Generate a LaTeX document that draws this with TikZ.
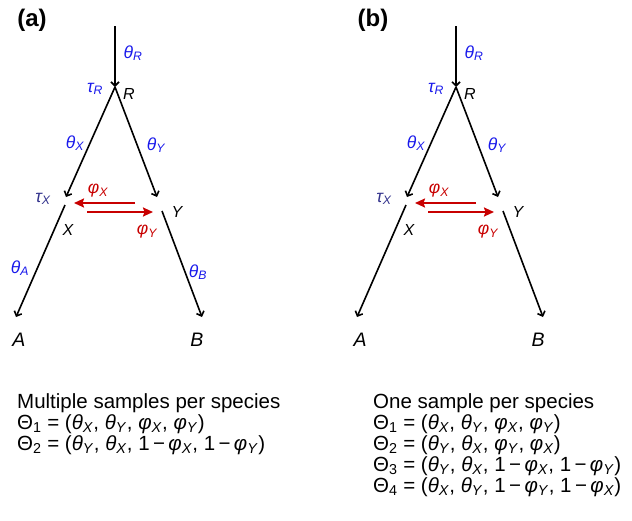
\documentclass[tikz,border=0pt]{standalone}
\usepackage{fontspec}
\setmainfont{Liberation Sans}
\usetikzlibrary{arrows.meta}
\definecolor{thblue}{RGB}{25,25,235}
\definecolor{taunavy}{RGB}{50,50,140}
\definecolor{migred}{RGB}{200,0,0}

\begin{document}
\begin{tikzpicture}[x=1pt,y=-1pt, every node/.style={inner sep=0pt},
  branch/.style={line width=1.6pt,-{Straight Barb[length=4pt,width=8pt]}},
  migarr/.style={draw=migred,line width=2pt,-{Stealth[length=10pt,width=9pt,inset=1.5pt]}},
  lab/.style={font=\fontsize{17.5}{20}\selectfont\itshape,text=thblue},
  miglab/.style={lab,text=migred},
  pop/.style={font=\fontsize{16}{19}\selectfont\itshape},
  leaf/.style={font=\fontsize{19.5}{22}\selectfont\itshape},
  panel/.style={font=\fontsize{24}{28}\selectfont\bfseries},
  blurb/.style={font=\fontsize{20.5}{21}\selectfont,align=left,anchor=north west}]
  \useasboundingbox (0,0) rectangle (632,520);
  \newcommand{\gsub}[2]{#1\textsubscript{#2}}
  \newcommand{\speciestree}[1]{
    \node[panel] (tag) at (32,20) {(#1)};
    \coordinate (top) at (115,26);
    \coordinate (R) at (115,87);
    \coordinate (Xend) at (66,197);
    \coordinate (Xbeg) at (65,205);
    \coordinate (Yend) at (157,197);
    \coordinate (Ybeg) at (162,211);
    \coordinate (A) at (16,317);
    \coordinate (B) at (202,317);
    \draw[branch] (top) -- (R);
    \draw[branch] (R) -- (Xend);
    \draw[branch] (R) -- (Yend);
    \draw[branch] (Xbeg) -- (A);
    \draw[branch] (Ybeg) -- (B);
    \coordinate (mXfrom) at (135,203);
    \coordinate (mXto) at (74,203);
    \coordinate (mYfrom) at (87,212);
    \coordinate (mYto) at (153,212);
    \draw[migarr] (mXfrom) -- (mXto);
    \draw[migarr] (mYfrom) -- (mYto);
    \node[lab] (thR) at (133,53) {\gsub{θ}{R}};
    \node[lab] (tauR) at (95,89) {\gsub{τ}{R}};
    \node[pop] (labR) at (129,94) {R};
    \node[lab] (thX) at (75,143) {\gsub{θ}{X}};
    \node[lab] (thY) at (156,145) {\gsub{θ}{Y}};
    \node[lab,text=taunavy] (tauX) at (43,199) {\gsub{τ}{X}};
    \node[pop] (labX) at (68,230) {X};
    \node[pop] (labY) at (177,212) {Y};
    \node[miglab] (phiX) at (98,191) {\gsub{φ}{X}};
    \node[miglab] (phiY) at (147,232) {\gsub{φ}{Y}};
    \node[leaf] (labA) at (19,340) {A};
    \node[leaf] (labB) at (197,340) {B};
  }
  \begin{scope}[name prefix=a-]
    \speciestree{a}
    \node[lab] (thA) at (20,268) {\gsub{θ}{A}};
    \node[lab] (thB) at (198,272) {\gsub{θ}{B}};
    \node[blurb] (sets) at (17,393) {Multiple samples per species\\
      Θ\textsubscript{1} = (\gsub{\textit{θ}}{\textit{X}}, \gsub{\textit{θ}}{\textit{Y}}, \gsub{\textit{φ}}{\textit{X}}, \gsub{\textit{φ}}{\textit{Y}})\\
      Θ\textsubscript{2} = (\gsub{\textit{θ}}{\textit{Y}}, \gsub{\textit{θ}}{\textit{X}}, 1\,−\,\gsub{\textit{φ}}{\textit{X}}, 1\,−\,\gsub{\textit{φ}}{\textit{Y}})};
  \end{scope}
  \begin{scope}[xshift=341pt,name prefix=b-]
    \speciestree{b}
    \node[blurb] (sets) at (32,393) {One sample per species\\
      Θ\textsubscript{1} = (\gsub{\textit{θ}}{\textit{X}}, \gsub{\textit{θ}}{\textit{Y}}, \gsub{\textit{φ}}{\textit{X}}, \gsub{\textit{φ}}{\textit{Y}})\\
      Θ\textsubscript{2} = (\gsub{\textit{θ}}{\textit{Y}}, \gsub{\textit{θ}}{\textit{X}}, \gsub{\textit{φ}}{\textit{Y}}, \gsub{\textit{φ}}{\textit{X}})\\
      Θ\textsubscript{3} = (\gsub{\textit{θ}}{\textit{Y}}, \gsub{\textit{θ}}{\textit{X}}, 1\,−\,\gsub{\textit{φ}}{\textit{X}}, 1\,−\,\gsub{\textit{φ}}{\textit{Y}})\\
      Θ\textsubscript{4} = (\gsub{\textit{θ}}{\textit{X}}, \gsub{\textit{θ}}{\textit{Y}}, 1\,−\,\gsub{\textit{φ}}{\textit{Y}}, 1\,−\,\gsub{\textit{φ}}{\textit{X}})};
  \end{scope}
\end{tikzpicture}
\end{document}
